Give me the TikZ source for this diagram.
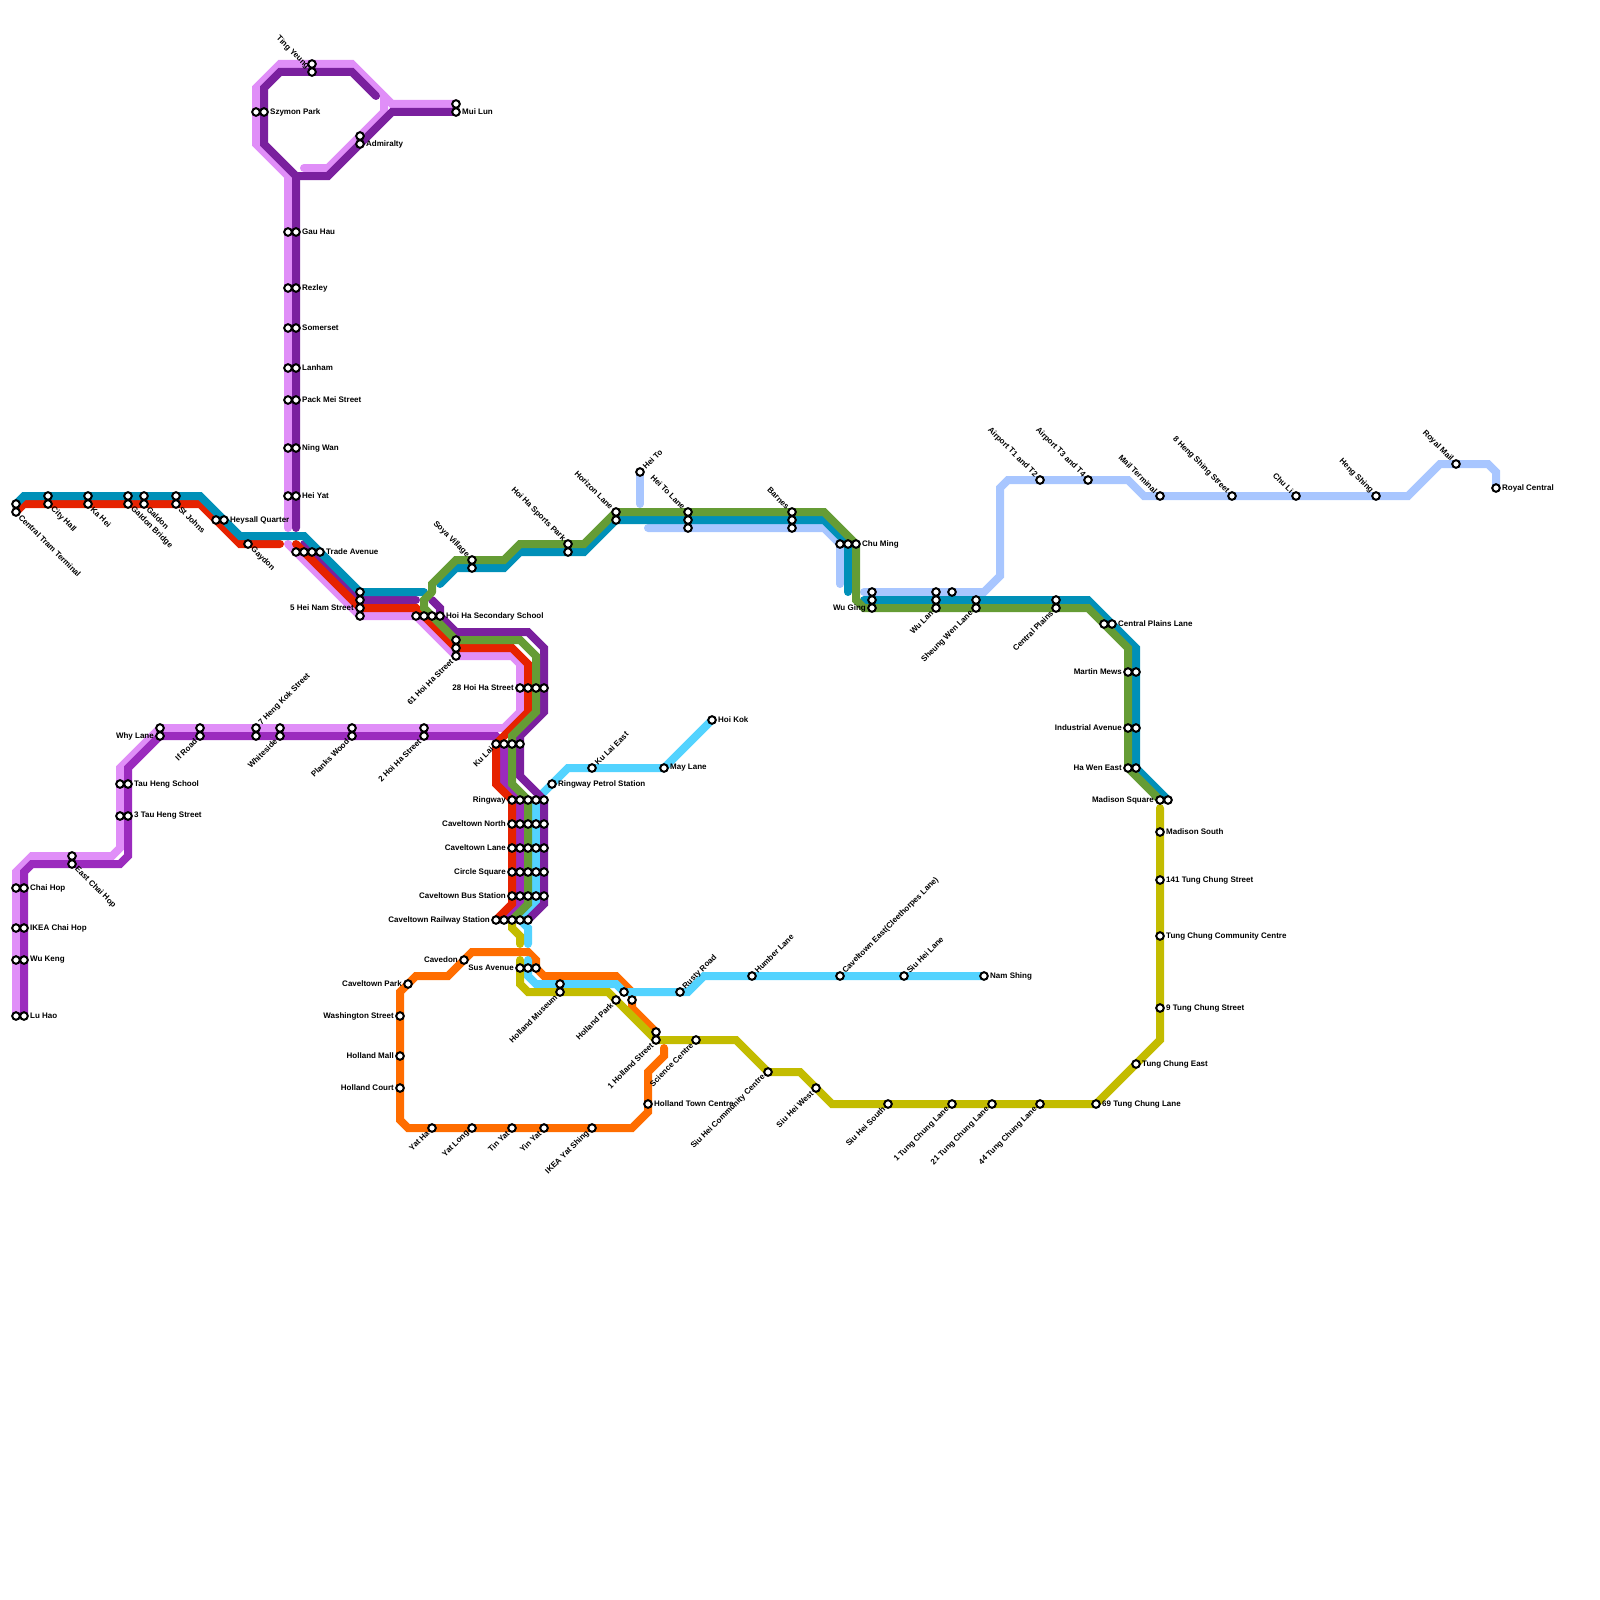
\documentclass[tikz,border=0pt]{standalone}
\usepackage{fontspec}
\setmainfont{Liberation Sans}
\definecolor{cTeal}{HTML}{0090B8}
\definecolor{cRed}{HTML}{E62200}
\definecolor{cDark}{HTML}{7A209E}
\definecolor{cMed}{HTML}{9B2BBE}
\definecolor{cLight}{HTML}{E08EF8}
\definecolor{cGreen}{HTML}{659C35}
\definecolor{cBlue}{HTML}{53D3FF}
\definecolor{cPeri}{HTML}{A8C6FF}
\definecolor{cOlive}{HTML}{C3BC00}
\definecolor{cOrange}{HTML}{FF6D00}
\tikzset{
  metro/.style={line width=8pt,line cap=round,line join=miter,miter limit=10},
  st/.style={circle,draw=black,fill=white,line width=2pt,minimum size=7.6pt,inner sep=0pt},
  lab/.style={inner sep=0pt,font=\bfseries\fontsize{8}{9}\selectfont,text=black}
}
\newcommand\LE[2]{\node[lab,anchor=west,xshift=6pt] (l#1) at (s#1) {#2};}
\newcommand\LW[2]{\node[lab,anchor=east,xshift=-6pt] (l#1) at (s#1) {#2};}
\newcommand\LDR[2]{\node[lab,xshift=4pt,yshift=-4pt,rotate=-45,anchor=west] (l#1) at (s#1) {#2};}
\newcommand\LUR[2]{\node[lab,xshift=4pt,yshift=4pt,rotate=45,anchor=west] (l#1) at (s#1) {#2};}
\newcommand\LDL[2]{\node[lab,xshift=-4pt,yshift=-4pt,rotate=45,anchor=east] (l#1) at (s#1) {#2};}
\newcommand\LUL[2]{\node[lab,xshift=-4pt,yshift=4pt,rotate=-45,anchor=east] (l#1) at (s#1) {#2};}
\newcommand\ST[1]{\foreach \p/\q in {#1}{\node[st] (s\p-\q) at (\p,\q) {};}}
\begin{document}
\begin{tikzpicture}[x=1pt,y=-1pt]
\useasboundingbox (0,0) rectangle (1600,1600);
% orange
\draw[metro,cOrange] (664,1048)--(664,1056)--(648,1072)--(648,1112)--(632,1128)--(408,1128)--(400,1120)--(400,992)--(416,976)--(448,976)--(472,952)--(528,952)--(536,960)--(536,968)--(544,976)--(616,976)--(624,984)--(632,992)--(632,1008)--(656,1032);
% light blue
\draw[metro,cBlue] (712,720)--(664,768)--(568,768)--(536,800)--(536,904)--(520,920)--(528,928)--(528,944);
\draw[metro,cBlue] (528,960)--(528,976)--(536,984)--(616,984)--(624,992)--(688,992)--(704,976)--(984,976);
% periwinkle
\draw[metro,cPeri] (640,472)--(640,504);
\draw[metro,cPeri] (648,528)--(824,528)--(840,544)--(840,584);
\draw[metro,cPeri] (864,592)--(984,592)--(1000,576)--(1000,488)--(1008,480)--(1128,480)--(1144,496)--(1408,496)--(1440,464)--(1488,464)--(1496,472)--(1496,488);
% olive
\draw[metro,cOlive] (512,920)--(512,928)--(520,936)--(520,944);
\draw[metro,cOlive] (520,960)--(520,984)--(528,992)--(608,992)--(656,1040)--(736,1040)--(768,1072)--(800,1072)--(832,1104)--(1096,1104)--(1160,1040)--(1160,808);
% light purple
\draw[metro,cLight] (288,528)--(288,176)--(256,144)--(256,88)--(280,64)--(352,64)--(392,104)--(456,104);
\draw[metro,cLight] (304,168)--(328,168)--(384,112)--(384,96);
\draw[metro,cLight] (288,544)--(360,616)--(416,616)--(456,656)--(512,656)--(520,664)--(520,712)--(504,728)--(160,728)--(120,768)--(120,848)--(112,856)--(32,856)--(16,872)--(16,1016);
% medium purple
\draw[metro,cMed] (24,1016)--(24,872)--(32,864)--(120,864)--(128,856)--(128,768)--(160,736)--(496,736)--(504,744)--(504,784)--(520,800)--(520,904)--(504,920);
% dark purple
\draw[metro,cDark] (376,96)--(352,72)--(280,72)--(264,88)--(264,144)--(296,176)--(296,528);
\draw[metro,cDark] (296,176)--(328,176)--(392,112)--(456,112);
\draw[metro,cDark] (304,544)--(360,600)--(416,600);
\draw[metro,cDark] (432,600)--(440,608)--(440,616)--(456,632)--(528,632)--(544,648)--(544,712)--(520,736)--(520,776)--(544,800)--(544,904)--(528,920);
% red
\draw[metro,cRed] (16,512)--(24,504)--(200,504)--(240,544)--(280,544);
\draw[metro,cRed] (296,544)--(360,608)--(416,608)--(456,648)--(512,648)--(528,664)--(528,712)--(496,744)--(496,784)--(512,800)--(512,904)--(496,920);
% teal
\draw[metro,cTeal] (16,504)--(24,496)--(200,496)--(240,536)--(304,536)--(360,592)--(424,592);
\draw[metro,cTeal] (440,584)--(456,568)--(504,568)--(520,552)--(584,552)--(616,520)--(824,520)--(848,544)--(848,592);
\draw[metro,cTeal] (864,600)--(1088,600)--(1136,648)--(1136,768)--(1168,800);
% green
\draw[metro,cGreen] (432,592)--(424,600)--(424,608)--(456,640)--(520,640)--(536,656)--(536,712)--(512,736)--(512,784)--(528,800)--(528,904)--(512,920);
\draw[metro,cGreen] (432,592)--(432,584)--(456,560)--(504,560)--(520,544)--(584,544)--(616,512)--(824,512)--(856,544)--(856,600)--(864,608)--(1088,608)--(1128,648)--(1128,768)--(1160,800);
% stations
\ST{16/504,16/512,48/496,48/504,88/496,88/504,128/496,128/504,144/496,144/504,176/496,176/504,216/520,224/520,248/544}
\ST{288/232,296/232,288/288,296/288,288/328,296/328,288/368,296/368,288/400,296/400,288/448,296/448,288/496,296/496,296/552,304/552,312/552,320/552,360/592,360/600,360/608,360/616}
\ST{312/64,312/72,256/112,264/112,456/104,456/112,360/136,360/144}
\ST{416/616,424/616,432/616,440/616,456/640,456/648,456/656,472/560,472/568,568/544,568/552,616/512,616/520,640/472,688/512,688/520,688/528,792/512,792/520,792/528,840/544,848/544,856/544}
\ST{872/592,872/600,872/608,936/592,936/600,936/608,952/592,976/600,976/608,1056/600,1056/608,1104/624,1112/624,1128/672,1136/672,1128/728,1136/728,1128/768,1136/768,1160/800,1168/800}
\ST{1160/832,1160/880,1160/936,1160/1008,1136/1064,1096/1104,1040/1104,992/1104,952/1104,888/1104,816/1088,768/1072,696/1040,656/1032,656/1040}
\ST{616/1000,624/992,632/1000,560/984,560/992,520/968,528/968,536/968,464/960,408/984,400/1016,400/1056,400/1088,648/1104,432/1128,472/1128,512/1128,544/1128,592/1128}
\ST{680/992,752/976,840/976,904/976,984/976,592/768,664/768,712/720,552/784}
\ST{512/800,520/800,528/800,536/800,544/800,512/824,520/824,528/824,536/824,544/824,512/848,520/848,528/848,536/848,544/848,512/872,520/872,528/872,536/872,544/872,512/896,520/896,528/896,536/896,544/896,496/920,504/920,512/920,520/920,528/920,496/744,504/744,512/744,520/744}
\ST{520/688,528/688,536/688,544/688,160/728,160/736,200/728,200/736,256/728,256/736,280/728,280/736,352/728,352/736,424/728,424/736}
\ST{120/784,128/784,120/816,128/816,72/856,72/864,16/888,24/888,16/928,24/928,16/960,24/960,16/1016,24/1016}
\ST{1040/480,1088/480,1160/496,1232/496,1296/496,1376/496,1456/464,1496/488}
% labels
\LDR{16-512}{Central Tram Terminal}
\LDR{48-504}{City Hall}
\LDR{88-504}{Ka Hei}
\LDR{128-504}{Galdon Bridge}
\LDR{144-504}{Galdon}
\LDR{176-504}{St Johns}
\LE{224-520}{Heysall Quarter}
\LDR{248-544}{Gaydon}
\LE{296-232}{Gau Hau}
\LE{296-288}{Rezley}
\LE{296-328}{Somerset}
\LE{296-368}{Lanham}
\LE{296-400}{Pack Mei Street}
\LE{296-448}{Ning Wan}
\LE{296-496}{Hei Yat}
\LE{320-552}{Trade Avenue}
\LW{360-608}{5 Hei Nam Street}
\LUL{312-72}{Ting Yeung}
\LE{264-112}{Szymon Park}
\LE{456-112}{Mui Lun}
\LE{360-144}{Admiralty}
\LE{440-616}{Hoi Ha Secondary School}
\LDL{456-656}{61 Hoi Ha Street}
\LUL{472-560}{Soya Village}
\LUL{568-544}{Hoi Ha Sports Park}
\LUL{616-512}{Horizon Lane}
\LUR{640-472}{Hei To}
\LUL{688-512}{Hei To Lane}
\LUL{792-512}{Barnes}
\LE{856-544}{Chu Ming}
\LW{872-608}{Wu Ging}
\LDL{936-608}{Wu Lan}
\LDL{976-608}{Sheung Wen Lane}
\LDL{1056-608}{Central Plains}
\LE{1112-624}{Central Plains Lane}
\LW{1128-672}{Martin Mews}
\LW{1128-728}{Industrial Avenue}
\LW{1128-768}{Ha Wen East}
\LW{1160-800}{Madison Square}
\LE{1160-832}{Madison South}
\LE{1160-880}{141 Tung Chung Street}
\LE{1160-936}{Tung Chung Community Centre}
\LE{1160-1008}{9 Tung Chung Street}
\LE{1136-1064}{Tung Chung East}
\LE{1096-1104}{69 Tung Chung Lane}
\LDL{1040-1104}{44 Tung Chung Lane}
\LDL{992-1104}{21 Tung Chung Lane}
\LDL{952-1104}{1 Tung Chung Lane}
\LDL{888-1104}{Siu Hei South}
\LDL{816-1088}{Siu Hei West}
\LDL{768-1072}{Siu Hei Community Centre}
\LDL{696-1040}{Science Centre}
\LDL{656-1040}{1 Holland Street}
\LDL{616-1000}{Holland Park}
\LDL{560-992}{Holland Museum}
\LW{520-968}{Sus Avenue}
\LW{464-960}{Cavedon}
\LW{408-984}{Caveltown Park}
\LW{400-1016}{Washington Street}
\LW{400-1056}{Holland Mall}
\LW{400-1088}{Holland Court}
\LE{648-1104}{Holland Town Centre}
\LDL{432-1128}{Yat Ha}
\LDL{472-1128}{Yat Long}
\LDL{512-1128}{Tin Yat}
\LDL{544-1128}{Yin Yat}
\LDL{592-1128}{IKEA Yat Shing}
\LE{984-976}{Nam Shing}
\LUR{904-976}{Siu Hei Lane}
\LUR{840-976}{Caveltown East(Cleethorpes Lane)}
\LUR{752-976}{Humber Lane}
\LUR{680-992}{Rusty Road}
\LUR{592-768}{Ku Lai East}
\LE{664-768}{May Lane}
\LE{712-720}{Hoi Kok}
\LE{552-784}{Ringway Petrol Station}
\LW{512-800}{Ringway}
\LW{512-824}{Caveltown North}
\LW{512-848}{Caveltown Lane}
\LW{512-872}{Circle Square}
\LW{512-896}{Caveltown Bus Station}
\LW{496-920}{Caveltown Railway Station}
\LDL{496-744}{Ku Lai}
\LW{520-688}{28 Hoi Ha Street}
\LDL{424-736}{2 Hoi Ha Street}
\LDL{352-736}{Planks Wood}
\LDL{280-736}{Whiteside}
\LUR{256-728}{7 Heng Kok Street}
\LDL{200-736}{If Road}
\LW{160-736}{Why Lane}
\LE{128-784}{Tau Heng School}
\LE{128-816}{3 Tau Heng Street}
\LDR{72-864}{East Chai Hop}
\LE{24-888}{Chai Hop}
\LE{24-928}{IKEA Chai Hop}
\LE{24-960}{Wu Keng}
\LE{24-1016}{Lu Hao}
\LUL{1040-480}{Airport T1 and T2}
\LUL{1088-480}{Airport T3 and T4}
\LUL{1160-496}{Mail Terminal}
\LUL{1232-496}{8 Heng Shing Street}
\LUL{1296-496}{Chu Li}
\LUL{1376-496}{Heng Shing}
\LUL{1456-464}{Royal Mail}
\LE{1496-488}{Royal Central}
\end{tikzpicture}
\end{document}
